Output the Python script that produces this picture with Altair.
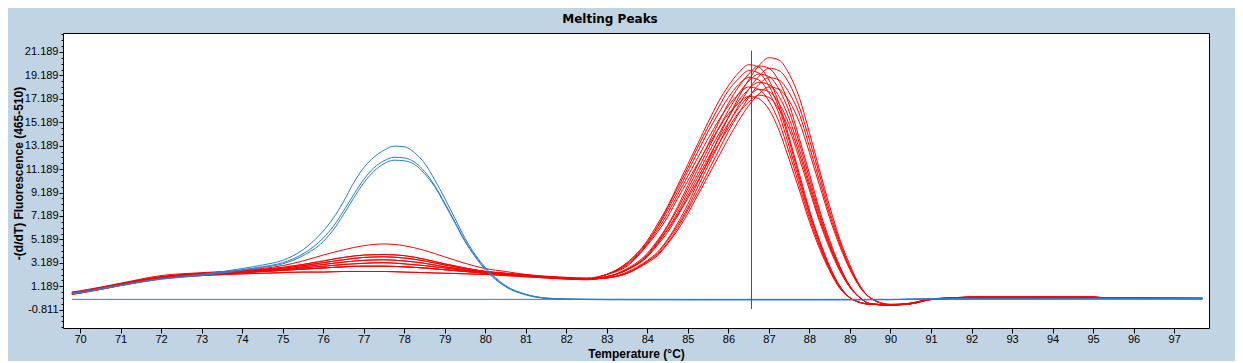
import altair as alt
import pandas as pd

# ---------------- data ----------------
# temperature grid for the red (sample) curves
T = [69.8, 70, 71, 72, 73, 74, 75, 75.5, 76, 76.5, 77, 77.5, 78, 78.5, 79, 79.5,
     80, 80.5, 81, 81.5, 82, 82.5,
     83, 83.5, 84, 84.25, 84.5, 84.75, 85, 85.25, 85.5, 85.75, 86, 86.25, 86.5,
     86.75, 87, 87.25, 87.5, 87.75, 88, 88.25, 88.5, 88.75, 89, 89.25, 89.5,
     90, 90.5, 91, 91.5, 92, 95, 95.5, 97.7]

# low-temperature part (69.8 .. 82.5 C) of the red curves, small bump near 77.4 C
LEFT_A = [0.7, 0.8, 1.45, 2.1, 2.35, 2.55, 2.95, 3.35, 3.85, 4.3, 4.65, 4.8, 4.65, 4.25, 3.7, 3.15, 2.7, 2.45, 2.2, 2.05, 1.95, 1.9]
LEFT_B = [0.65, 0.75, 1.4, 2.0, 2.3, 2.5, 2.8, 3.05, 3.35, 3.65, 3.85, 3.9, 3.8, 3.5, 3.1, 2.75, 2.45, 2.3, 2.15, 2.0, 1.9, 1.85]
LEFT_F = [0.62, 0.72, 1.38, 1.98, 2.25, 2.45, 2.72, 2.95, 3.2, 3.45, 3.65, 3.7, 3.6, 3.35, 3.0, 2.7, 2.45, 2.28, 2.12, 1.98, 1.88, 1.82]
LEFT_C = [0.6, 0.7, 1.35, 1.95, 2.2, 2.4, 2.65, 2.85, 3.05, 3.25, 3.4, 3.45, 3.35, 3.15, 2.85, 2.6, 2.4, 2.25, 2.1, 1.95, 1.85, 1.8]
LEFT_G = [0.58, 0.68, 1.32, 1.92, 2.18, 2.38, 2.6, 2.75, 2.9, 3.05, 3.15, 3.2, 3.1, 2.95, 2.75, 2.55, 2.35, 2.22, 2.08, 1.95, 1.85, 1.8]
LEFT_D = [0.55, 0.65, 1.3, 1.9, 2.15, 2.35, 2.55, 2.65, 2.75, 2.85, 2.9, 2.9, 2.85, 2.75, 2.6, 2.45, 2.3, 2.2, 2.05, 1.95, 1.85, 1.8]
LEFT_E = [0.5, 0.6, 1.25, 1.85, 2.1, 2.25, 2.35, 2.4, 2.4, 2.45, 2.45, 2.45, 2.4, 2.35, 2.3, 2.25, 2.2, 2.1, 2.0, 1.9, 1.8, 1.75]

# melting-peak part (83 .. 97.7 C) of each red curve
PEAK_1 = [1.9, 2.4, 3.4, 4.1, 5.2, 6.6, 8.2, 10.1, 11.9, 13.8, 15.6, 17.3, 18.8, 20.0, 20.7, 20.5, 19.3, 17.3, 14.3, 11.1, 8.0, 5.2, 3.0, 1.2, 0.2, -0.35, -0.3, 0.1, 0.18, 0.26, 0.26, 0.17, 0.15]
PEAK_2 = [1.9, 2.3, 3.3, 3.9, 4.9, 6.2, 7.7, 9.3, 11.0, 12.7, 14.4, 15.9, 17.3, 18.4, 19.0, 18.8, 17.7, 15.9, 13.1, 10.2, 7.3, 4.8, 2.7, 1.1, 0.2, -0.4, -0.3, 0.05, 0.15, 0.22, 0.22, 0.15, 0.14]
PEAK_3 = [2.0, 2.7, 4.0, 5.1, 6.4, 8.0, 9.8, 11.6, 13.3, 15.1, 16.8, 18.2, 19.3, 20.0, 19.8, 18.7, 16.7, 13.8, 10.8, 7.7, 5.1, 2.9, 1.2, 0.2, -0.3, -0.4, -0.25, 0.1, 0.2, 0.27, 0.27, 0.18, 0.16]
PEAK_4 = [2.0, 2.6, 3.9, 5.0, 6.3, 7.8, 9.5, 11.2, 12.9, 14.6, 16.2, 17.6, 18.7, 19.3, 19.1, 18.0, 16.1, 13.4, 10.4, 7.4, 4.9, 2.8, 1.2, 0.2, -0.3, -0.45, -0.3, 0.08, 0.18, 0.25, 0.25, 0.17, 0.15]
PEAK_5 = [2.0, 2.6, 3.8, 4.9, 6.1, 7.5, 9.2, 10.8, 12.5, 14.1, 15.6, 17.0, 18.0, 18.6, 18.4, 17.4, 15.5, 12.9, 10.0, 7.2, 4.7, 2.7, 1.1, 0.2, -0.3, -0.4, -0.28, 0.1, 0.17, 0.24, 0.24, 0.16, 0.15]
PEAK_6 = [2.0, 2.6, 3.8, 4.8, 6.0, 7.3, 8.9, 10.5, 12.1, 13.7, 15.1, 16.4, 17.4, 18.0, 17.8, 16.8, 15.0, 12.5, 9.7, 6.9, 4.6, 2.6, 1.1, 0.2, -0.3, -0.42, -0.3, 0.06, 0.16, 0.23, 0.23, 0.16, 0.14]
PEAK_7 = [2.2, 3.2, 5.1, 6.5, 8.0, 9.8, 11.6, 13.4, 15.2, 16.9, 18.3, 19.4, 20.1, 19.9, 18.8, 16.8, 13.9, 10.8, 7.7, 5.1, 2.9, 1.2, 0.2, -0.2, -0.35, -0.4, -0.25, 0.1, 0.2, 0.27, 0.27, 0.18, 0.16]
PEAK_8 = [2.2, 3.1, 4.9, 6.2, 7.7, 9.3, 11.0, 12.7, 14.4, 15.9, 17.3, 18.4, 19.0, 18.8, 17.7, 15.9, 13.1, 10.2, 7.3, 4.8, 2.7, 1.1, 0.2, -0.2, -0.35, -0.38, -0.25, 0.08, 0.18, 0.25, 0.25, 0.17, 0.15]
PEAK_9 = [2.2, 3.0, 4.8, 6.0, 7.4, 9.0, 10.6, 12.2, 13.8, 15.3, 16.6, 17.6, 18.2, 18.0, 17.0, 15.2, 12.6, 9.8, 7.0, 4.6, 2.6, 1.1, 0.2, -0.2, -0.35, -0.4, -0.3, 0.05, 0.15, 0.22, 0.22, 0.15, 0.14]
PEAK_10 = [2.2, 2.9, 4.7, 5.8, 7.1, 8.7, 10.2, 11.7, 13.2, 14.6, 15.9, 16.8, 17.4, 17.2, 16.3, 14.5, 12.0, 9.4, 6.7, 4.4, 2.5, 1.0, 0.2, -0.2, -0.35, -0.4, -0.3, 0.07, 0.17, 0.24, 0.24, 0.16, 0.15]
PEAK_11 = [1.9, 2.3, 3.2, 3.8, 4.8, 6.0, 7.4, 9.0, 10.6, 12.2, 13.8, 15.3, 16.6, 17.6, 18.2, 18.0, 17.0, 15.2, 12.6, 9.8, 7.0, 4.6, 2.6, 1.1, 0.2, -0.38, -0.3, 0.06, 0.16, 0.23, 0.23, 0.16, 0.15]
PEAK_12 = [2.0, 2.6, 3.7, 4.7, 5.8, 7.2, 8.7, 10.2, 11.8, 13.3, 14.7, 16.0, 16.9, 17.5, 17.3, 16.3, 14.6, 12.1, 9.4, 6.7, 4.4, 2.5, 1.1, 0.2, -0.3, -0.4, -0.28, 0.08, 0.17, 0.25, 0.25, 0.17, 0.15]
PEAK_13 = [1.9, 2.3, 3.3, 4.0, 5.1, 6.4, 7.9, 9.7, 11.5, 13.2, 15.0, 16.6, 18.0, 19.1, 19.8, 19.6, 18.5, 16.5, 13.7, 10.7, 7.6, 5.0, 2.8, 1.2, 0.2, -0.36, -0.3, 0.1, 0.19, 0.26, 0.26, 0.17, 0.15]
PEAK_14 = [2.2, 3.2, 5.0, 6.3, 7.9, 9.6, 11.3, 13.1, 14.8, 16.4, 17.9, 18.9, 19.6, 19.4, 18.3, 16.4, 13.6, 10.5, 7.5, 5.0, 2.8, 1.2, 0.2, -0.2, -0.35, -0.4, -0.27, 0.09, 0.18, 0.25, 0.25, 0.17, 0.15]

RED_CURVES = [
    (LEFT_C, PEAK_1), (LEFT_D, PEAK_2), (LEFT_B, PEAK_3), (LEFT_F, PEAK_4),
    (LEFT_E, PEAK_5), (LEFT_G, PEAK_6), (LEFT_A, PEAK_7), (LEFT_C, PEAK_8),
    (LEFT_F, PEAK_9), (LEFT_D, PEAK_10), (LEFT_G, PEAK_11), (LEFT_E, PEAK_12),
    (LEFT_B, PEAK_13), (LEFT_D, PEAK_14),
]

# temperature grid for the blue curves
TB = [69.8, 70, 71, 72, 73, 74, 74.5, 75, 75.5, 76, 76.25, 76.5, 76.75, 77, 77.25,
      77.5, 77.75, 78, 78.25, 78.5, 78.75, 79, 79.25, 79.5, 79.75, 80, 80.5, 81,
      81.5, 82, 83, 85, 89, 90, 91, 95, 97.7]
BLUE_1 = [0.6, 0.7, 1.3, 1.85, 2.2, 2.7, 3.0, 3.4, 4.3, 5.9, 7.0, 8.4, 10.0, 11.3, 12.2, 12.8, 13.15, 13.1, 12.6, 11.7, 10.3, 8.7, 7.0, 5.3, 3.9, 2.8, 1.25, 0.5, 0.18, 0.1, 0.07, 0.06, 0.06, 0.06, 0.12, 0.15, 0.15]
BLUE_2 = [0.55, 0.65, 1.25, 1.8, 2.15, 2.6, 2.85, 3.2, 3.95, 5.3, 6.3, 7.6, 9.0, 10.3, 11.3, 11.9, 12.2, 12.15, 11.8, 11.0, 9.8, 8.3, 6.7, 5.1, 3.8, 2.7, 1.2, 0.5, 0.18, 0.1, 0.05, 0.04, 0.04, 0.05, 0.12, 0.15, 0.15]
BLUE_3 = [0.55, 0.65, 1.25, 1.8, 2.1, 2.55, 2.8, 3.1, 3.8, 5.0, 6.0, 7.3, 8.7, 10.0, 11.0, 11.65, 11.95, 11.9, 11.6, 10.8, 9.7, 8.2, 6.6, 5.0, 3.7, 2.6, 1.15, 0.45, 0.15, 0.08, 0.04, 0.03, 0.03, 0.04, 0.11, 0.14, 0.14]
BLUE_CURVES = [BLUE_1, BLUE_2, BLUE_3]

# flat baseline trace
BASE_T = [69.8, 97.7]
BASE_Y = [0.07, 0.07]

# vertical cursor line
CURSOR_T = [86.57]
CURSOR_Y0 = [-0.75]
CURSOR_Y1 = [21.3]

# axis ticks / labels
X_TICKS = [70, 71, 72, 73, 74, 75, 76, 77, 78, 79, 80, 81, 82, 83, 84, 85, 86,
           87, 88, 89, 90, 91, 92, 93, 94, 95, 96, 97]
Y_MAJOR = [-0.811, 1.189, 3.189, 5.189, 7.189, 9.189, 11.189, 13.189, 15.189,
           17.189, 19.189, 21.189]
Y_MINOR = [round(-2.311 + 0.5 * k, 3) for k in range(51)]

TITLE = "Melting Peaks"
X_TITLE = "Temperature (°C)"
Y_TITLE = "-(d/dT) Fluorescence (465-510)"

# ---------------- tables ----------------
red_rows = []
for i, (left, peak) in enumerate(RED_CURVES):
    for t, v in zip(T, left + peak):
        red_rows.append({"curve": f"red{i}", "t": t, "v": v})
red_df = pd.DataFrame(red_rows)

blue_rows = []
for i, vals in enumerate(BLUE_CURVES):
    for t, v in zip(TB, vals):
        blue_rows.append({"curve": f"blue{i}", "t": t, "v": v})
blue_df = pd.DataFrame(blue_rows)

base_df = pd.DataFrame({"t": BASE_T, "v": BASE_Y})
cursor_df = pd.DataFrame({"t": CURSOR_T, "y0": CURSOR_Y0, "y1": CURSOR_Y1})

# ---------------- chart ----------------
FONT = "Liberation Sans"
xscale = alt.Scale(domain=[69.58, 97.86], nice=False, zero=False)
yscale = alt.Scale(domain=[-2.375, 22.81], nice=False, zero=False)

x_axis = alt.Axis(
    values=X_TICKS, format="d", tickSize=5, tickColor="black", labelPadding=0,
    labelFont=FONT, labelFontSize=11, labelColor="black", domain=False, grid=False,
    title=X_TITLE, titleFont=FONT, titleFontSize=12, titleFontWeight="bold",
    titleColor="black", titleX=573, titleY=29, titleAlign="center",
    titleBaseline="alphabetic", labelFlush=False, labelOverlap=False,
)
y_axis = alt.Axis(
    values=Y_MAJOR, orient="left", tickSize=4, tickColor="black", labelPadding=1,
    labelExpr="replace(format(datum.value, '.3f'), '\u2212', '-')",
    labelFont=FONT, labelFontSize=11, labelColor="black", domain=False, grid=False,
    title=Y_TITLE, titleFont=FONT, titleFontSize=12, titleFontWeight="bold",
    titleColor="black", titleX=-45, titleY=140, titleAngle=270,
    titleAlign="center", titleBaseline="middle", labelOverlap=False,
)
y_minor_axis = alt.Axis(
    values=Y_MINOR, orient="left", tickSize=2, tickColor="black", labels=False,
    domain=False, grid=False, title="",
)

x_enc = alt.X("t:Q", scale=xscale, axis=x_axis)

base_layer = alt.Chart(base_df).mark_line(color="#2C80CC", strokeWidth=1).encode(
    x=x_enc, y=alt.Y("v:Q", scale=yscale, axis=None)
)
red_layer = alt.Chart(red_df).mark_line(
    color="#FF0000", strokeWidth=1, interpolate="monotone"
).encode(
    x=x_enc, y=alt.Y("v:Q", scale=yscale, axis=y_axis), detail="curve:N"
)
blue_layer = alt.Chart(blue_df).mark_line(
    color="#2A7DD2", strokeWidth=1, interpolate="monotone"
).encode(
    x=x_enc, y=alt.Y("v:Q", scale=yscale, axis=None), detail="curve:N"
)
cursor_layer = alt.Chart(cursor_df).mark_rule(color="#C02020", strokeWidth=1).encode(
    x=x_enc, y=alt.Y("y0:Q", scale=yscale, axis=y_minor_axis), y2="y1:Q"
)

chart = (
    alt.layer(base_layer, red_layer, blue_layer, cursor_layer)
    .resolve_axis(y="independent")
    .properties(
        width=1146,
        height=295,
        title=alt.TitleParams(
            TITLE, font="DejaVu Sans", fontSize=12, fontWeight="bold",
            color="black", anchor="middle", frame="group", baseline="alphabetic",
            offset=10, dx=-26, dy=12,
        ),
        autosize=alt.AutoSizeParams(type="none"),
        padding={"left": 55, "top": 25, "right": 26, "bottom": 33},
        background="#C0D4E4",
    )
    .configure_view(stroke="black", strokeWidth=1, fill="white")
)

chart.save("out.html", embed_options={"renderer": "svg", "actions": False})
